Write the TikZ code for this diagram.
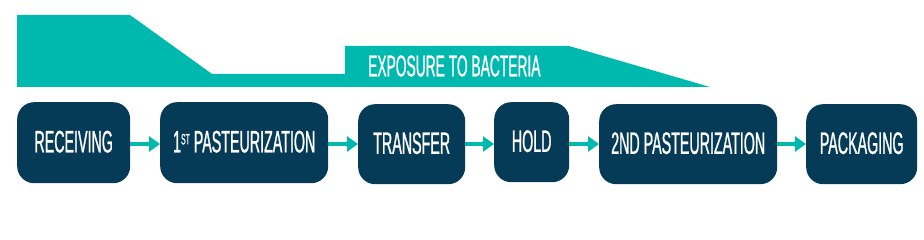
\documentclass[tikz,border=0pt]{standalone}
\usepackage{fontspec}
\setmainfont{Liberation Sans}[FakeStretch=0.46, FakeBold=0.8]
\usetikzlibrary{arrows.meta}
\definecolor{teal1}{HTML}{00B9AE}
\definecolor{navy1}{HTML}{053B57}
\tikzset{
  stepbox/.style={draw=none, fill=navy1, rounded corners=17pt, inner sep=0pt, anchor=north west},
  steptext/.style={text=white, font=\fontsize{31}{31}\selectfont, inner sep=0pt},
  flow/.style={draw=teal1, line width=4pt, -{Triangle[length=11pt,width=15pt]}, shorten >=0pt}
}
\begin{document}
\begin{tikzpicture}[x=1pt,y=-1pt]
\useasboundingbox (0,0) rectangle (924,240);
% banner shapes
\fill[teal1] (17,15) -- (130,15) -- (212,74) -- (345,74) -- (345,87) -- (17,87) -- cycle;
\fill[teal1] (345,46) -- (569,46) -- (710,87) -- (345,87) -- cycle;
\node[text=white, font=\fontsize{30}{30}\selectfont, anchor=west, inner sep=0pt] (exp) at (368,66) {EXPOSURE TO BACTERIA};
% boxes
\node[stepbox, minimum width=113pt, minimum height=81pt] (rec) at (17,102) {};
\node[steptext] (recT) at ([yshift=1pt]rec.center) {RECEIVING};
\node[stepbox, minimum width=168pt, minimum height=81pt] (p1) at (160,102) {};
\node[steptext] (p1T) at ([yshift=1pt]p1.center) {1\raisebox{8pt}{\fontsize{15}{15}\selectfont ST} PASTEURIZATION};
\node[stepbox, minimum width=107pt, minimum height=80pt] (tr) at (358,104) {};
\node[steptext] (trT) at ([yshift=1pt]tr.center) {TRANSFER};
\node[stepbox, minimum width=75pt, minimum height=80pt] (hold) at (494,102) {};
\node[steptext] (holdT) at ([yshift=1pt]hold.center) {HOLD};
\node[stepbox, minimum width=178pt, minimum height=80pt] (p2) at (599,104) {};
\node[steptext] (p2T) at ([yshift=1pt]p2.center) {2ND PASTEURIZATION};
\node[stepbox, minimum width=111pt, minimum height=80pt] (pack) at (806,104) {};
\node[steptext] (packT) at ([yshift=1pt]pack.center) {PACKAGING};
% arrows
\draw[flow] (rec.east |- 0,144) -- (p1.west |- 0,144);
\draw[flow] (p1.east |- 0,144) -- (tr.west |- 0,144);
\draw[flow] (tr.east |- 0,144) -- (hold.west |- 0,144);
\draw[flow] (hold.east |- 0,144) -- (p2.west |- 0,144);
\draw[flow] (p2.east |- 0,144) -- (pack.west |- 0,144);
\end{tikzpicture}
\end{document}
